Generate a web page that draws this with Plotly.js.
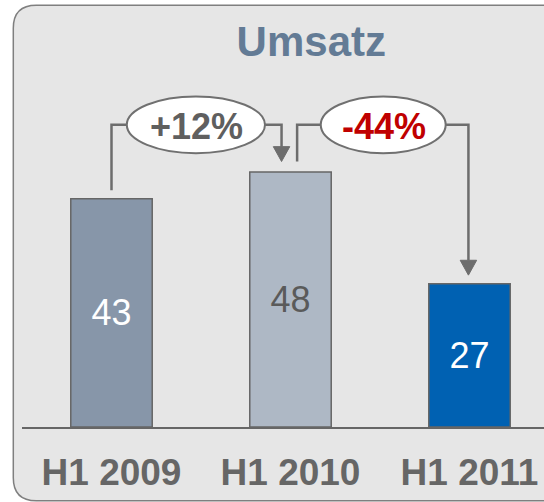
<!DOCTYPE html>
<html>
<head>
<meta charset="utf-8">
<script src="https://cdn.plot.ly/plotly-3.0.1.min.js"></script>
<style>
  html, body { margin: 0; padding: 0; background: #ffffff; }
  #chart { width: 544px; height: 502px; }
</style>
</head>
<body>
<div id="chart"></div>
<script>
// ---- data ----
const categories = ['H1 2009', 'H1 2010', 'H1 2011'];
const values = [43, 48, 27];
const valueLabels = ['43', '48', '27'];
const changeLabels = ['+12%', '-44%'];
const chartTitle = 'Umsatz';

// ---- styles ----
const barColors = ['#8796a9', '#aeb8c5', '#0061b2'];
const valueTextColors = ['#ffffff', '#5a5a5a', '#ffffff'];
const changeColors = ['#5f5f5f', '#c00000'];
const lineColor = '#6d6d6d';
const FONT = 'Arial, "Liberation Sans", sans-serif';

const PX_PER_UNIT = 5.31;
const PLOT_H = 427;
const yMax = PLOT_H / PX_PER_UNIT;
const level = 56.9;             // connector level (data units)
const ellHalfH = 5.35;          // ellipse half height (data units)
// per-connector geometry (style offsets relative to bars)
const conn = [
  { from: 0, to: 1, startDx: 0.0,   startGap: 1.6, endDx: -0.05,  endGap: 2.0, ellC: 0.4715, ellHW: 0.386 },
  { from: 1, to: 2, startDx: 0.037, startGap: 2.0, endDx: -0.006, endGap: 1.6, ellC: 1.518,  ellHW: 0.349 }
];
const headH = 2.8, headHW = 0.046;

const shapes = [];
// panel (rounded rectangle) in paper coordinates
(function () {
  const plotW = 522, plotH = PLOT_H;
  const L = (13.3 - 22) / plotW, R = 1.05;
  const T = (plotH - 5.2) / plotH, B = (plotH - 500.7) / plotH;
  const rx = 23 / plotW, ry = 23 / plotH;
  const path = `M ${L + rx},${T} L ${R},${T} L ${R},${B} L ${L + rx},${B} Q ${L},${B} ${L},${B + ry} L ${L},${T - ry} Q ${L},${T} ${L + rx},${T} Z`;
  shapes.push({ type: 'path', xref: 'paper', yref: 'paper', path: path,
    fillcolor: '#e6e6e6', line: { color: '#7f7f7f', width: 1.5 }, layer: 'below' });
})();

const annotations = [];
conn.forEach((c, i) => {
  const xs = c.from + c.startDx;
  const ys = values[c.from] + c.startGap;
  const xe = c.to + c.endDx;
  const yTip = values[c.to] + c.endGap;
  const eL = c.ellC - c.ellHW, eR = c.ellC + c.ellHW;
  shapes.push({ type: 'path', xref: 'x', yref: 'y',
    path: `M ${xs},${ys} L ${xs},${level} L ${eL},${level}`,
    line: { color: lineColor, width: 2.5 } });
  shapes.push({ type: 'path', xref: 'x', yref: 'y',
    path: `M ${eR},${level} L ${xe},${level} L ${xe},${yTip + headH}`,
    line: { color: lineColor, width: 2.5 } });
  shapes.push({ type: 'path', xref: 'x', yref: 'y',
    path: `M ${xe - headHW},${yTip + headH} L ${xe + headHW},${yTip + headH} L ${xe},${yTip} Z`,
    fillcolor: lineColor, line: { color: lineColor, width: 1 } });
  shapes.push({ type: 'circle', xref: 'x', yref: 'y',
    x0: eL, x1: eR, y0: level - ellHalfH, y1: level + ellHalfH,
    fillcolor: '#ffffff', line: { color: '#707070', width: 2 } });
  annotations.push({ xref: 'x', yref: 'y', x: c.ellC + 0.006, y: level - 0.3,
    text: '<b>' + changeLabels[i] + '</b>', showarrow: false,
    xanchor: 'center', yanchor: 'middle',
    font: { family: FONT, size: 36, color: changeColors[i] } });
});

const trace = {
  type: 'bar',
  x: categories,
  y: values,
  width: 0.455,
  text: valueLabels,
  textposition: 'inside',
  insidetextanchor: 'middle',
  textangle: 0,
  textfont: { family: FONT, size: 36, color: valueTextColors },
  marker: { color: barColors, line: { color: '#666666', width: 1.5 } },
  hoverinfo: 'skip'
};

const layout = {
  width: 544, height: 502,
  margin: { l: 22, r: 0, t: 0, b: 75 },
  paper_bgcolor: '#ffffff',
  plot_bgcolor: 'rgba(0,0,0,0)',
  showlegend: false,
  title: { text: '<b>' + chartTitle + '</b>', x: 301.5 / 544, xanchor: 'center',
    xref: 'paper', y: 0.918, yref: 'container', yanchor: 'middle',
    font: { family: FONT, size: 42, color: '#637b95' } },
  xaxis: { type: 'category', range: [-0.5, -0.5 + 522 / 179], fixedrange: true,
    showline: true, linecolor: '#666666', linewidth: 1.5, showgrid: false, zeroline: false,
    ticks: '', ticklabelstandoff: 12,
    tickfont: { family: FONT, size: 37, color: '#666666', weight: 'bold' } },
  yaxis: { range: [0, yMax], visible: false, showgrid: false, zeroline: false, fixedrange: true },
  shapes: shapes,
  annotations: annotations
};

Plotly.newPlot('chart', [trace], layout, { displayModeBar: false, staticPlot: true });
</script>
</body>
</html>
